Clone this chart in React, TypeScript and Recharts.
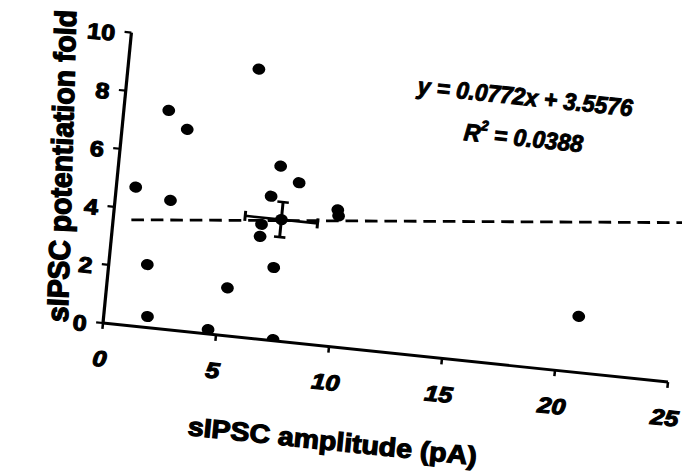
import React from 'react';
import { ScatterChart, Scatter, XAxis, YAxis, ReferenceLine, ErrorBar, Label } from 'recharts';

const amplitude = [0.85, 1.69, 1.92, 1.97, 2.43, 2.86, 4.63, 5.3, 5.74, 6.82, 7.11, 7.99, 6.52, 6.51, 7.24, 7.52, 9.8, 9.86, 20.81];
const potentiation = [4.75, 2.15, 0.38, 7.48, 4.42, 6.9, 0.15, 1.64, 9.21, 4.92, 5.98, 5.48, 3.93, 3.51, 2.5, 0.04, 4.69, 4.49, 1.92];
const meanX = [7.37];
const meanY = [4.16];
const meanErrX = [1.6];
const meanErrY = [0.6];
const xTicks = [0, 5, 10, 15, 20, 25];
const yTicks = [0, 2, 4, 6, 8, 10];
const slope = 0.0772;
const intercept = 3.5576;
const fitRange = [0.8, 25.3];

const points = amplitude.map((x, i) => ({ x, y: potentiation[i] }));
const meanPoint = meanX.map((x, i) => ({ x, y: meanY[i], ex: meanErrX[i], ey: meanErrY[i] }));
const fitSegment = fitRange.map((x) => ({ x, y: slope * x + intercept }));

const FONT = '"Liberation Sans", Arial, sans-serif';

const Dot = (props: any) => <circle cx={props.cx} cy={props.cy} r={5.6} fill="#000" />;

const XTick = (props: any) => (
  <text x={props.x} y={props.y + 30} textAnchor="middle" dominantBaseline="central"
    fontFamily={FONT} fontWeight="bold" fontStyle="italic" fontSize={22} fill="#000"
    style={{ stroke: '#000', strokeWidth: 1.1 }}>
    {props.payload.value}
  </text>
);

const YTick = (props: any) => (
  <text x={props.x - 8} y={props.y + 2.5} textAnchor="end" dominantBaseline="central"
    fontFamily={FONT} fontWeight="bold" fontSize={22} fill="#000"
    style={{ stroke: '#000', strokeWidth: 1.1 }}>
    {props.payload.value}
  </text>
);

const XTitle = () => (
  <text x={309} y={406} textAnchor="middle" dominantBaseline="central" textLength={253} lengthAdjust="spacingAndGlyphs"
    fontFamily={FONT} fontWeight="bold" fontSize={26} fill="#000"
    style={{ stroke: '#000', strokeWidth: 1.2 }}>
    sIPSC amplitude (pA)
  </text>
);

const YTitle = () => (
  <text x={51} y={160} transform="rotate(-93.5 51 160)" textAnchor="middle" dominantBaseline="central"
    textLength={312} lengthAdjust="spacingAndGlyphs"
    fontFamily={FONT} fontWeight="bold" fontSize={26} fill="#000"
    style={{ stroke: '#000', strokeWidth: 1.2 }}>
    sIPSC potentiation fold
  </text>
);

const Equation = () => (
  <g fontFamily={FONT} fontWeight="bold" fontStyle="italic" fill="#000" style={{ stroke: '#000', strokeWidth: 1 }}>
    <text x={447} y={43} textAnchor="middle" dominantBaseline="central" fontSize={24} textLength={188} lengthAdjust="spacingAndGlyphs">
      y = 0.0772x + 3.5576
    </text>
    <text x={449} y={84} textAnchor="middle" dominantBaseline="central" fontSize={24} textLength={104} lengthAdjust="spacingAndGlyphs">
      R<tspan fontSize={14} dy={-9}>2</tspan><tspan dy={9}> = 0.0388</tspan>
    </text>
  </g>
);

export default function App() {
  return (
    <div style={{ position: 'fixed', left: 0, top: 0, width: 682, height: 475, overflow: 'hidden', background: '#fff' }}>
      <div
        style={{
          position: 'absolute',
          left: 3.3,
          top: 10.7,
          width: 640,
          height: 430,
          transform: 'matrix(1.1414, 0.1192, -0.0973, 0.9945, 0, 0)',
          transformOrigin: '100px 312px',
        }}
      >
        <ScatterChart width={640} height={430} margin={{ top: 20, right: 45, bottom: 0, left: 0 }}>
          <XAxis type="number" dataKey="x" domain={[0, 25]} ticks={xTicks} interval={0}
            axisLine={{ stroke: '#000', strokeWidth: 2.8 }} tickLine={{ stroke: '#000', strokeWidth: 2.2 }}
            tickSize={6} tickMargin={0} tick={<XTick />} height={118} allowDataOverflow>
            <Label content={<XTitle />} />
          </XAxis>
          <YAxis type="number" dataKey="y" domain={[0, 10]} ticks={yTicks} interval={0}
            axisLine={{ stroke: '#000', strokeWidth: 2.8 }} tickLine={{ stroke: '#000', strokeWidth: 2.2 }}
            tickSize={6} tickMargin={0} tick={<YTick />} width={100} allowDataOverflow>
            <Label content={<YTitle />} />
            <Label content={<Equation />} />
          </YAxis>
          <ReferenceLine segment={fitSegment} stroke="#000" strokeWidth={2.8} strokeDasharray="11 6" ifOverflow="visible" />
          <Scatter data={points} shape={<Dot />} isAnimationActive={false} />
          <Scatter data={meanPoint} shape={<Dot />} isAnimationActive={false}>
            <ErrorBar dataKey="ex" direction="x" width={5} stroke="#000" strokeWidth={2.6} />
            <ErrorBar dataKey="ey" direction="y" width={5} stroke="#000" strokeWidth={2.6} />
          </Scatter>
        </ScatterChart>
      </div>
    </div>
  );
}
